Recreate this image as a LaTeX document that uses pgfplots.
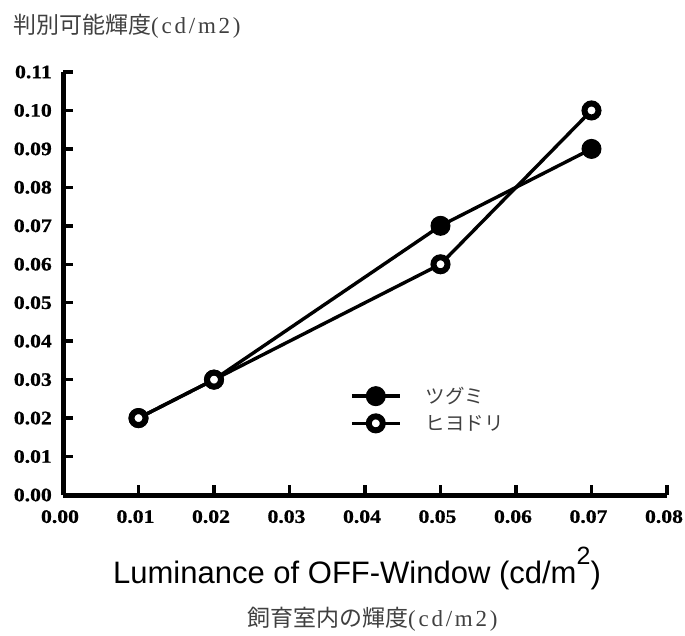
\documentclass[border=0pt]{standalone}
\usepackage{fontspec}
\usepackage{pgfplots}
\pgfplotsset{compat=1.18}
\setmainfont{Liberation Serif}
\newfontfamily\tickfont[FakeStretch=1.14, FakeBold=0.8]{Liberation Serif}
\newfontfamily\sansfont{Liberation Sans}
\newfontfamily\jpfont{Noto Sans CJK JP}
\newfontfamily\latserif[LetterSpace=12]{Liberation Serif}
\begin{document}
\begin{tikzpicture}
\path[use as bounding box] (0pt,0pt) rectangle (685pt,635pt);
\begin{axis}[
  at={(63pt,140pt)}, anchor=south west,
  scale only axis, width=604pt, height=423pt,
  xmin=0, xmax=0.08, ymin=0, ymax=0.11,
  scaled ticks=false,
  axis lines=left,
  axis line style={-, line width=5pt, black},
  tick align=inside,
  major tick length=10pt,
  tick style={line width=3.5pt, black},
  xtick={0,0.01,0.02,0.03,0.04,0.05,0.06,0.07,0.08},
  xticklabels={0.00,0.01,0.02,0.03,0.04,0.05,0.06,0.07,0.08},
  ytick={0,0.01,0.02,0.03,0.04,0.05,0.06,0.07,0.08,0.09,0.10,0.11},
  yticklabels={0.00,0.01,0.02,0.03,0.04,0.05,0.06,0.07,0.08,0.09,0.10,0.11},
  ticklabel style={font=\tickfont\bfseries\fontsize{19}{19}\selectfont},
  xticklabel style={anchor=north, inner sep=0pt, yshift=-15pt, xshift=-3pt},
  yticklabel style={anchor=east, inner sep=0pt, xshift=-11pt},
  legend style={at={(0.475,0.260)}, anchor=north west, draw=none, fill=none,
    font=\jpfont\fontsize{19.5}{20}\selectfont, text=black!75, row sep=6pt,
    inner sep=0pt, nodes={inner xsep=0pt},
    /tikz/every odd column/.append style={column sep=24pt}},
  legend cell align=left,
  legend image code/.code={\draw[mark repeat=2,mark phase=2] plot coordinates {(0pt,0pt) (24pt,0pt) (48pt,0pt)};},
]
\addplot[black, line width=3.4pt, mark=*, mark size=9.5pt, mark options={fill=black, line width=1pt}]
  coordinates {(0.01,0.02) (0.02,0.03) (0.05,0.07) (0.07,0.09)};
\addlegendentry{ツグミ}
\addplot[black, line width=3.4pt, mark=*, mark size=7pt, mark options={fill=white, draw=black, line width=6pt}]
  coordinates {(0.01,0.02) (0.02,0.03) (0.05,0.06) (0.07,0.10)};
\addlegendentry{ヒヨドリ}
\end{axis}
\node[anchor=west, inner sep=0pt, text=black!75] at (13pt,609pt)
  {\jpfont\fontsize{23}{23}\selectfont 判別可能輝度\latserif(cd/m2)};
\node[anchor=base west, inner sep=0pt] at (113pt,52pt)
  {\sansfont\fontsize{31}{31}\selectfont Luminance of OFF-Window (cd/m\raisebox{19pt}{\fontsize{25}{25}\selectfont 2})};
\node[anchor=west, inner sep=0pt, text=black!75] at (247pt,16pt)
  {\jpfont\fontsize{23}{23}\selectfont 飼育室内の輝度\latserif(cd/m2)};
\end{tikzpicture}
\end{document}
